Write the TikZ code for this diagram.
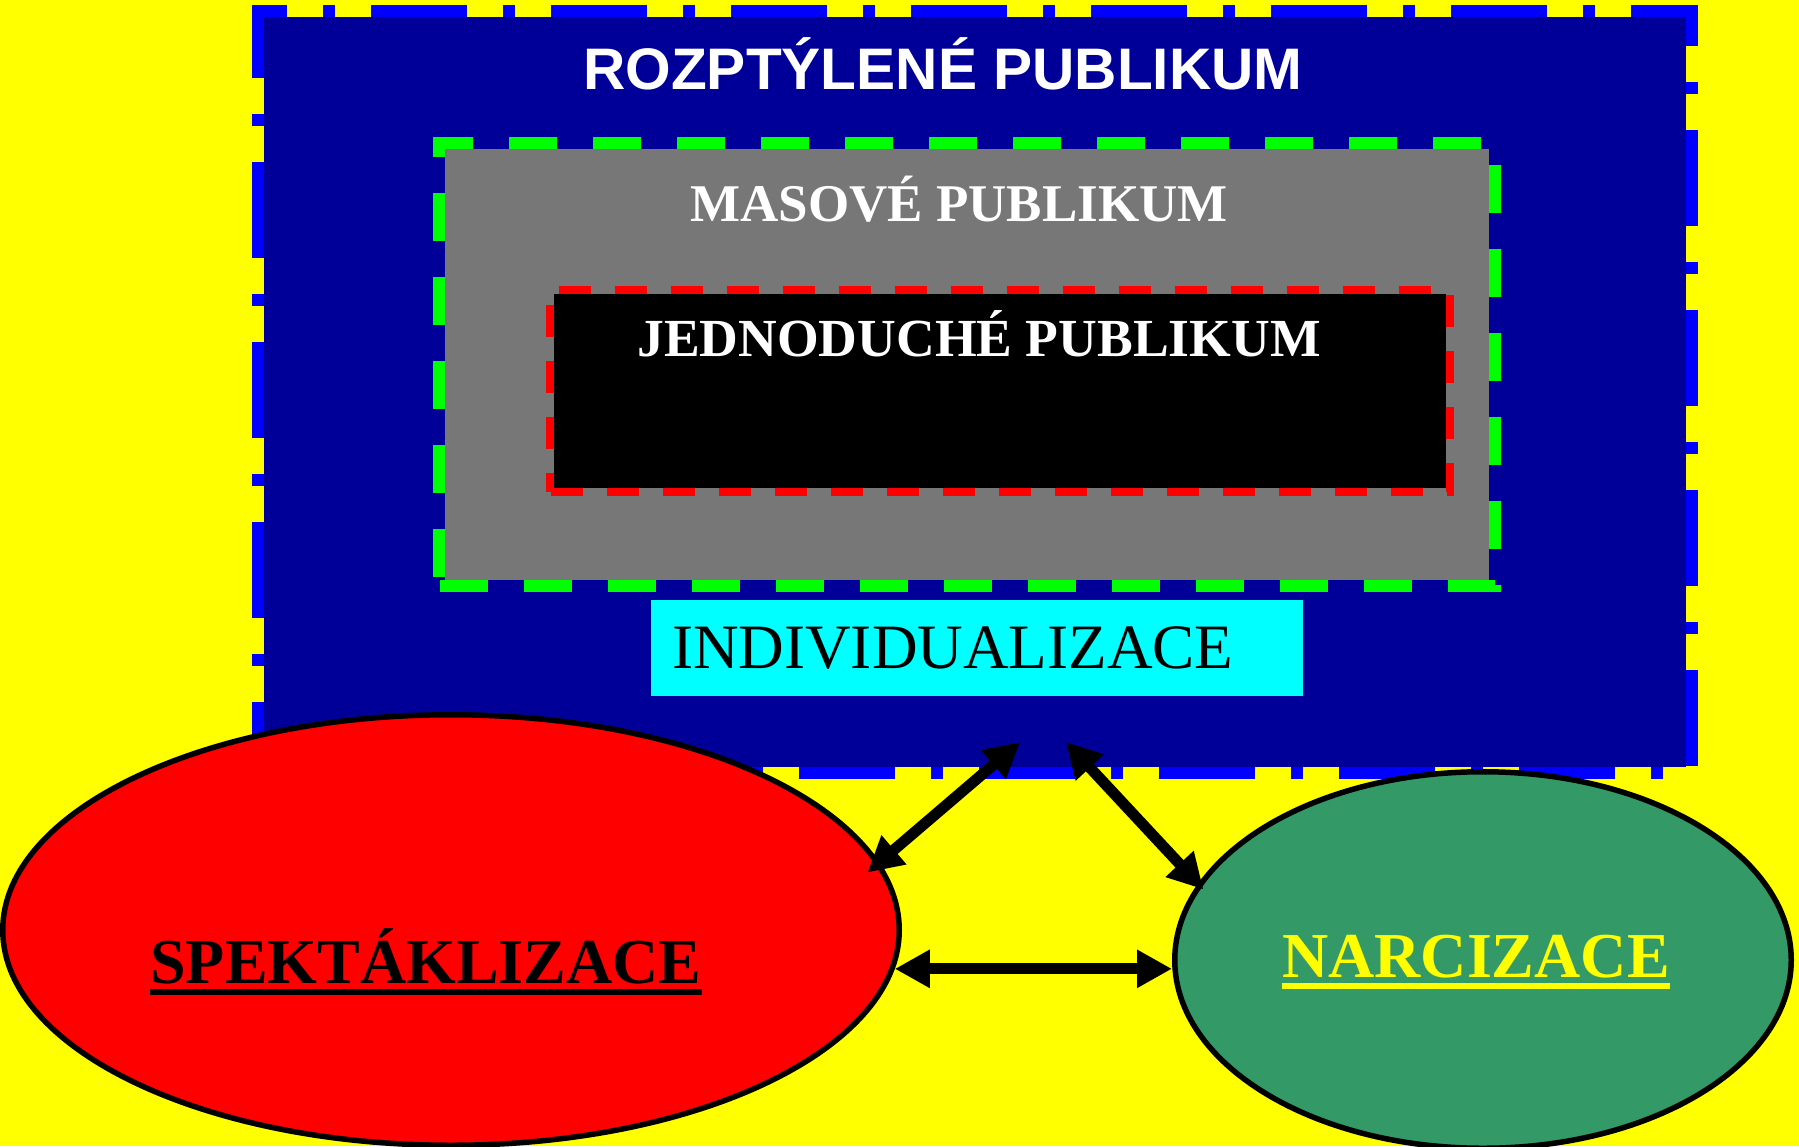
\documentclass[tikz,border=0pt]{standalone}
\usepackage{fontspec}
\setmainfont{Liberation Serif}
\newfontfamily\arialfont{Liberation Sans}
\usetikzlibrary{arrows.meta,shapes.geometric}

\definecolor{zluta}{HTML}{FFFF00}
\definecolor{modra}{HTML}{0000FF}
\definecolor{tmavomodra}{HTML}{000099}
\definecolor{seda}{HTML}{777777}
\definecolor{zelena}{HTML}{00FF00}
\definecolor{azur}{HTML}{00FFFF}
\definecolor{morska}{HTML}{339966}

\newcommand{\podtrh}[1]{\setbox0\hbox{#1}\rlap{\rule[-5.75pt]{\wd0}{2.75pt}}\box0}

\begin{document}
\begin{tikzpicture}[x=0.5pt,y=-0.5pt]
    \fill[zluta] (0,0) rectangle (1799,1146);
    \useasboundingbox (0,0) rectangle (1799,1146);
    \begin{scope}[every node/.style={rectangle,inner sep=0pt,outer sep=0pt}]
        \node[fill=tmavomodra,minimum width=711pt,minimum height=375pt] (rozptyl) at (975,392) {};
        \node[fill=seda,minimum width=522pt,minimum height=215.5pt] (masove) at (967,364.5) {};
        \node[fill=black,minimum width=446pt,minimum height=97pt] (jednoduche) at (1000,391) {};
        \node[fill=azur,minimum width=326pt,minimum height=48pt,inner xsep=10.5pt,
            text width=305pt,align=left,font=\fontsize{31.6}{38}\selectfont] (indiv) at (977,648) {INDIVIDUALIZACE};
    \end{scope}
    % obrysy mimo vypln
    \begin{scope}[line width=6pt]
        \draw[modra,dash pattern=on 48pt off 18pt on 6pt off 18pt,dash phase=12.5pt]
            ([shift={(-3pt,-3pt)}]rozptyl.south west) rectangle ([shift={(3pt,3pt)}]rozptyl.north east);
        \draw[zelena,dash pattern=on 24pt off 18pt,dash phase=37.5pt]
            ([shift={(-3pt,-3pt)}]masove.south west) rectangle ([shift={(3pt,3pt)}]masove.north east);
        \draw[red,line width=4pt,dash pattern=on 16pt off 12pt,dash phase=6.5pt]
            ([shift={(-2pt,-2pt)}]jednoduche.south west) rectangle ([shift={(2pt,2pt)}]jednoduche.north east);
    \end{scope}
    \begin{scope}[every node/.style={ellipse,draw=black,line width=2.75pt,inner sep=0pt}]
        \node[fill=red,minimum width=448.25pt,minimum height=215.25pt] (spek) at (451,930) {};
        \node[fill=morska,minimum width=308.25pt,minimum height=188.25pt] (narc) at (1483,960) {};
    \end{scope}
    \begin{scope}[every node/.style={inner sep=0pt,anchor=base}]
        \node[text=white,font=\arialfont\bfseries\fontsize{29.3}{35}\selectfont] (tRozptyl) at (943,89) {ROZPTÝLENÉ PUBLIKUM};
        \node[text=white,font=\bfseries\fontsize{26.5}{32}\selectfont] (tMasove) at (959,221) {MASOVÉ PUBLIKUM};
        \node[text=white,font=\bfseries\fontsize{26.8}{32}\selectfont] (tJednoduche) at (979,356) {JEDNODUCHÉ PUBLIKUM};
        \node[text=black,font=\bfseries\fontsize{32}{38}\selectfont] (tSpek) at (426,983) {\podtrh{SPEKTÁKLIZACE}};
        \node[text=zluta,font=\bfseries\fontsize{32}{38}\selectfont] (tNarc) at (1476,977) {\podtrh{NARCIZACE}};
    \end{scope}
    \begin{scope}[>={Triangle[length=17.5pt,width=18pt]},line width=5.5pt]
        \coordinate (indL) at (1020,742);
        \coordinate (indR) at (1066,742);
        \path [<->] (spek.9) edge[shorten <=-8pt] (indL);
        \path [<->] (indR) edge[shorten >=-4pt] (narc.165);
        \path [<->] (spek.-5) edge (spek.-5 -| narc.west);
    \end{scope}
\end{tikzpicture}
\end{document}
